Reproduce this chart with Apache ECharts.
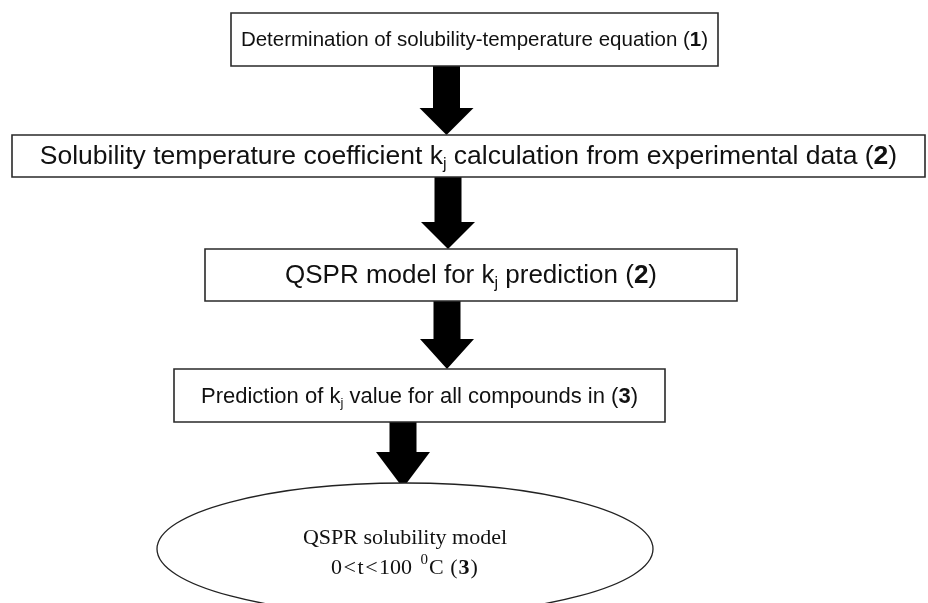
<!DOCTYPE html>
<html>
<head>
<meta charset="utf-8">
<title>QSPR solubility workflow</title>
<script src="https://cdn.jsdelivr.net/npm/echarts@6/dist/echarts.min.js"></script>
<style>
  html, body { margin: 0; padding: 0; background: #fff; }
  #chart { width: 928px; height: 603px; }
</style>
</head>
<body>
<div id="chart"></div>
<script>
// Flowchart steps: text is rich-text (k{sub|j}, {b|2} bold refs)
const stepLabels = [
  "Determination of solubility-temperature equation ({b|1})",
  "Solubility temperature coefficient k{sub|j} calculation from experimental data ({b|2})",
  "QSPR model for k{sub|j} prediction ({b|2})",
  "Prediction of k{sub|j} value for all compounds in ({b|3})",
];
const finalLabel = "QSPR solubility model\n0{lt|<}t{lt|<}100 {sup|0}C {b|(}{bb|3}{b|)}";

// layout in diagram units (x 0..928, y 0..603, y downwards)
const boxX0 = [231, 12, 205, 174];
const boxX1 = [718, 925, 737, 665];
const boxY0 = [13, 135, 249, 369];
const boxY1 = [66, 177, 301, 422];
const boxFont = [20.5, 26.5, 26, 22];
const arrowX = [446.5, 448, 447, 403];
const arrowY0 = [66, 177, 301, 422];
const arrowY1 = [135, 249, 369, 488];
const arrowHead = [27, 27, 30, 36];
const ellipseC = [405, 549];
const ellipseR = [248, 66];

const chart = echarts.init(document.getElementById("chart"));

function sansRich(fs) {
  return {
    sub: { fontSize: Math.round(fs * 0.6), fontFamily: "Liberation Sans", verticalAlign: "bottom", lineHeight: Math.round(fs * 0.6), fill: "#111" },
    b: { fontSize: fs, fontWeight: "bold", fontFamily: "Liberation Sans", lineHeight: fs * 1.2, fill: "#111" },
  };
}

function renderBox(params, api) {
  const i = params.dataIndex;
  const p0 = api.coord([boxX0[i], boxY0[i]]);
  const p1 = api.coord([boxX1[i], boxY1[i]]);
  const fs = boxFont[i];
  return {
    type: "group",
    children: [
      {
        type: "rect",
        shape: { x: p0[0], y: p0[1], width: p1[0] - p0[0], height: p1[1] - p0[1] },
        style: { fill: "#fff", stroke: "#2a2a2a", lineWidth: 1.6 },
      },
      {
        type: "text",
        x: (p0[0] + p1[0]) / 2,
        y: (p0[1] + p1[1]) / 2 + 1,
        style: {
          text: stepLabels[i],
          fontSize: fs,
          fontFamily: "Liberation Sans",
          lineHeight: fs * 1.2,
          fill: "#111",
          align: "center",
          verticalAlign: "middle",
          rich: sansRich(fs),
        },
      },
    ],
  };
}

function renderArrow(params, api) {
  const i = params.dataIndex;
  const top = api.coord([arrowX[i], arrowY0[i]]);
  const tip = api.coord([arrowX[i], arrowY1[i]]);
  const shaftHalf = 13.5, headHalf = 27;
  const cx = top[0];
  const hy = tip[1] - arrowHead[i];
  return {
    type: "polygon",
    shape: {
      points: [
        [cx - shaftHalf, top[1]], [cx + shaftHalf, top[1]],
        [cx + shaftHalf, hy], [cx + headHalf, hy],
        [cx, tip[1]],
        [cx - headHalf, hy], [cx - shaftHalf, hy],
      ],
    },
    style: { fill: "#000" },
  };
}

function renderEllipse(params, api) {
  const c = api.coord(ellipseC);
  const e = api.coord([ellipseC[0] + ellipseR[0], ellipseC[1] + ellipseR[1]]);
  const serif = { fontFamily: "Liberation Serif", fill: "#111" };
  return {
    type: "group",
    children: [
      {
        type: "ellipse",
        shape: { cx: c[0], cy: c[1], rx: e[0] - c[0], ry: e[1] - c[1] },
        style: { fill: "#fff", stroke: "#222", lineWidth: 1.3 },
      },
      {
        type: "text",
        x: c[0],
        y: c[1] + 4,
        style: {
          text: finalLabel,
          fontSize: 22,
          fontFamily: "Liberation Serif",
          lineHeight: 30,
          fill: "#111",
          align: "center",
          verticalAlign: "middle",
          rich: {
            lt: { ...serif, fontSize: 22, lineHeight: 30, padding: [0, 1.5, 0, 1.5] },
            sup: { ...serif, fontSize: 15, verticalAlign: "top", lineHeight: 20, padding: [0, 1, 0, 3] },
            b: { ...serif, fontSize: 22, lineHeight: 30, padding: [0, 1, 0, 1] },
            bb: { ...serif, fontSize: 22, fontWeight: "bold", lineHeight: 30 },
          },
        },
      },
    ],
  };
}

chart.setOption({
  animation: false,
  grid: { left: 0, right: 0, top: 0, bottom: 0 },
  xAxis: { type: "value", min: 0, max: 928, show: false },
  yAxis: { type: "value", min: 0, max: 603, inverse: true, show: false },
  series: [
    { type: "custom", name: "arrows", renderItem: renderArrow, data: arrowX.map((x, i) => [x, arrowY1[i]]), silent: true },
    { type: "custom", name: "steps", renderItem: renderBox, data: stepLabels.map((s, i) => [boxX0[i], boxY0[i]]), silent: true, z: 3 },
    { type: "custom", name: "result", renderItem: renderEllipse, data: [ellipseC], silent: true, z: 3 },
  ],
});
</script>
</body>
</html>
